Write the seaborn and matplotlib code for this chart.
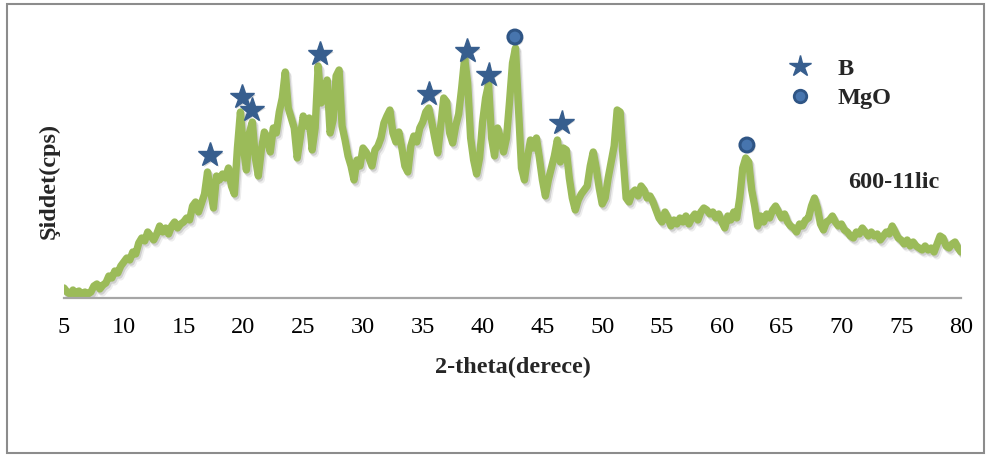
import numpy as np
import pandas as pd
import matplotlib
matplotlib.use("Agg")
import matplotlib.pyplot as plt
import matplotlib.patheffects as pe
from matplotlib.lines import Line2D
from matplotlib.patches import Rectangle
import seaborn as sns

# 2-theta grid (degrees) and measured intensity of the 600 °C sample
two_theta = np.round(np.arange(5.0, 80.0001, 0.25), 2)
intensity = [
    10, 6, 4, 8, 3, 7, 2, 6, 4, 6, 12, 14, 9, 13, 15, 22, 20, 27, 25, 32,
    36, 40, 38, 46, 44, 55, 60, 57, 66, 62, 58, 64, 72, 66, 70, 64, 72, 76, 70, 74,
    76, 80, 78, 92, 96, 86, 95, 104, 126, 108, 90, 122, 118, 124, 120, 130, 112, 104, 150, 186,
    150, 128, 165, 176, 140, 122, 148, 166, 160, 146, 170, 165, 186, 200, 226, 190, 180, 170, 140, 160,
    182, 172, 180, 148, 170, 232, 195, 200, 218, 165, 178, 222, 228, 172, 158, 142, 132, 118, 138, 132,
    150, 146, 140, 132, 148, 152, 160, 175, 182, 188, 165, 156, 166, 150, 132, 126, 152, 162, 156, 170,
    176, 186, 190, 176, 160, 145, 172, 200, 196, 165, 155, 172, 184, 210, 240, 215, 160, 138, 124, 140,
    176, 200, 214, 160, 142, 170, 160, 146, 160, 196, 235, 250, 190, 130, 118, 140, 158, 150, 160, 140,
    118, 102, 118, 130, 142, 158, 136, 150, 148, 120, 100, 88, 98, 104, 108, 112, 132, 146, 130, 110,
    94, 100, 120, 136, 152, 188, 186, 140, 100, 96, 105, 108, 102, 112, 108, 100, 102, 96, 88, 80,
    76, 86, 80, 72, 78, 74, 80, 76, 82, 74, 80, 84, 78, 86, 90, 88, 84, 86, 80, 84,
    76, 70, 82, 78, 86, 80, 100, 130, 140, 136, 108, 92, 72, 82, 76, 84, 80, 88, 92, 86,
    80, 84, 76, 72, 70, 66, 74, 72, 78, 80, 92, 100, 90, 74, 68, 76, 78, 82, 76, 72,
    74, 68, 66, 62, 60, 66, 64, 70, 66, 62, 66, 62, 64, 58, 62, 66, 64, 72, 66, 60,
    58, 54, 58, 52, 56, 52, 50, 48, 52, 48, 50, 46, 54, 62, 60, 52, 50, 54, 56, 50,
    46,
]

# Identified reflections
b_theta = [17.2, 19.9, 20.7, 26.4, 35.5, 38.7, 40.5, 46.6]
b_int = [143, 201, 188, 244, 204, 247, 223, 175]
mgo_theta = [42.7, 62.1]
mgo_int = [261, 153]

x_ticks = list(range(5, 81, 5))

sns.set_theme(style="white")
plt.rcParams["font.family"] = ["Liberation Serif", "DejaVu Serif"]

GREEN = "#9BBB59"
BLUE = "#375E8E"

fig = plt.figure(figsize=(9.87, 4.55), dpi=100)
ax = fig.add_axes([64 / 987, 157 / 455, 897 / 987, 273 / 455])

shadow = [
    pe.SimpleLineShadow(offset=(1.0, -1.5), shadow_color="#606060", alpha=0.22, rho=1),
    pe.SimpleLineShadow(offset=(2.0, -2.8), shadow_color="#808080", alpha=0.14, rho=1),
    pe.Normal(),
]

df = pd.DataFrame({"2theta": two_theta, "I": intensity})
sns.lineplot(data=df, x="2theta", y="I", ax=ax, color=GREEN, linewidth=5.3,
             solid_joinstyle="round", solid_capstyle="round", path_effects=shadow)

marker_shadow = [pe.SimplePatchShadow(offset=(1.2, -1.2), shadow_rgbFace="#777777", alpha=0.3),
                 pe.Normal()]
ax.plot(b_theta, b_int, ls="none", marker="*", ms=18.5, color=BLUE, mec=BLUE,
        path_effects=marker_shadow, zorder=5)
ax.plot(mgo_theta, mgo_int, ls="none", marker="o", ms=10, mfc="#4775AE", mec="#2F5585",
        mew=2.2, path_effects=marker_shadow, zorder=5)

ax.set_xlim(5, 80)
ax.set_ylim(0, 273)
ax.set_xticks(x_ticks)
ax.set_xticklabels([str(t) for t in x_ticks])
ax.set_yticks([])
ax.tick_params(axis="x", length=0, pad=14, labelsize=17.5, colors="black")
for s in ("left", "right", "top"):
    ax.spines[s].set_visible(False)
ax.spines["bottom"].set_color("#A6A6A6")
ax.spines["bottom"].set_linewidth(1.6)

ax.set_xlabel("2-theta(derece)", fontsize=17.5, fontweight="bold", va="center")
ax.xaxis.set_label_coords(448.5 / 897, -69 / 273)
ax.set_ylabel("Şiddet(cps)", fontsize=17.5, fontweight="bold", va="center", ha="center")
ax.yaxis.set_label_coords(-15 / 897, 117 / 273)

ax.text(830 / 897, 116 / 273, "600-11lic", transform=ax.transAxes, fontsize=17.5,
        fontweight="bold", ha="center", va="center")

handles = [
    Line2D([], [], ls="none", marker="*", ms=16, color=BLUE),
    Line2D([], [], ls="none", marker="o", ms=9, mfc="#4775AE", mec="#2F5585", mew=2),
]
leg = ax.legend(handles, ["B", "MgO"], loc="center left",
                bbox_to_anchor=(788 / 987, 1 - 83.5 / 455), bbox_transform=fig.transFigure,
                frameon=False, handlelength=1.0, handletextpad=1.05, borderpad=0,
                borderaxespad=0, labelspacing=0.3,
                prop={"family": ["Liberation Serif"], "weight": "bold", "size": 17.5})

fig.patches.append(Rectangle((7 / 987, 2 / 455), 977 / 987, 449 / 455, transform=fig.transFigure,
                             fill=False, edgecolor="#8C8C8C", linewidth=1.5))

fig.savefig("out.png", dpi=100, facecolor="white")
